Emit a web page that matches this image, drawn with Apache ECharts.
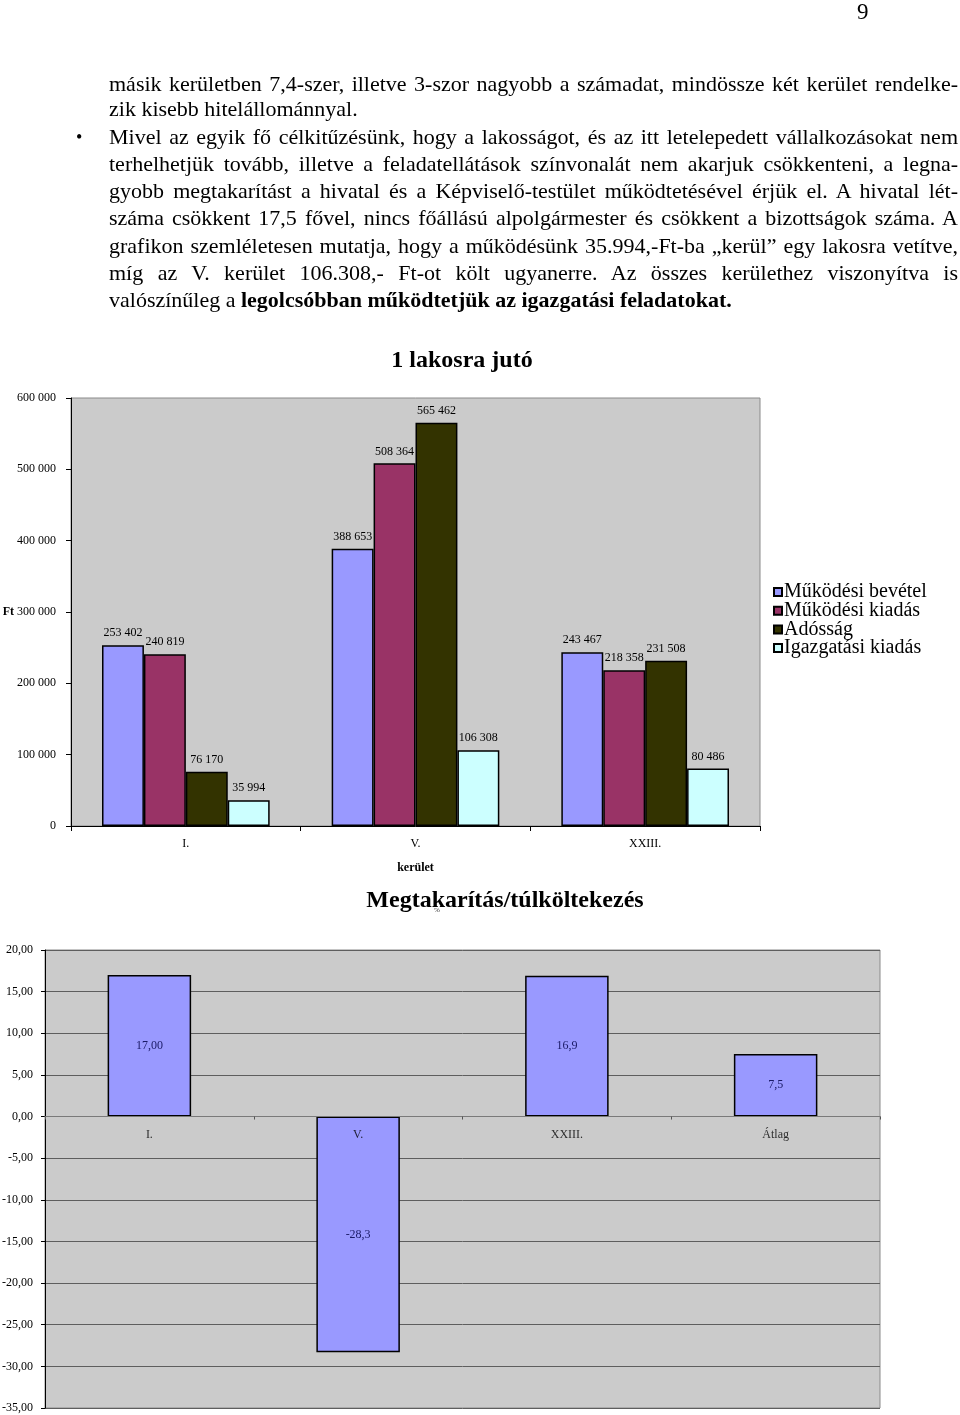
<!DOCTYPE html>
<html>
<head>
<meta charset="utf-8">
<script src="https://cdn.jsdelivr.net/npm/echarts@6/dist/echarts.min.js"></script>
<style>
  html, body { margin:0; padding:0; background:#fff; }
  #page { position:relative; width:960px; height:1415px; overflow:hidden; }
  #chart { position:absolute; left:0; top:0; width:960px; height:1415px; }
  .ln { position:absolute; left:109px; width:849px; font-family:"Liberation Serif", serif; font-size:22px; line-height:26px; white-space:nowrap; color:#000; }
  .j { text-align:justify; text-align-last:justify; }
  .pn { position:absolute; left:857px; top:-1px; font-family:"Liberation Serif", serif; font-size:23px; }
  .bul { position:absolute; left:76px; top:127px; font-family:"Liberation Serif", serif; font-size:18px; }
</style>
</head>
<body>
<div id="page">
  <div id="chart"></div>
  <div class="pn">9</div>
  <div class="bul">•</div>
  <div class="ln j" style="top:71px">másik kerületben 7,4-szer, illetve 3-szor nagyobb a számadat, mindössze két kerület rendelke-</div>
  <div class="ln" style="top:96px">zik kisebb hitelállománnyal.</div>
  <div class="ln j" style="top:124px">Mivel az egyik fő célkitűzésünk, hogy a lakosságot, és az itt letelepedett vállalkozásokat nem</div>
  <div class="ln j" style="top:151px">terhelhetjük tovább, illetve a feladatellátások színvonalát nem akarjuk csökkenteni, a legna-</div>
  <div class="ln j" style="top:178px">gyobb megtakarítást a hivatal és a Képviselő-testület működtetésével érjük el. A hivatal lét-</div>
  <div class="ln j" style="top:205px">száma csökkent 17,5 fővel, nincs főállású alpolgármester és csökkent a bizottságok száma. A</div>
  <div class="ln j" style="top:233px">grafikon szemléletesen mutatja, hogy a működésünk 35.994,-Ft-ba „kerül” egy lakosra vetítve,</div>
  <div class="ln j" style="top:260px">míg az V. kerület 106.308,- Ft-ot költ ugyanerre. Az összes kerülethez viszonyítva is</div>
  <div class="ln" style="top:287px">valószínűleg a <b>legolcsóbban működtetjük az igazgatási feladatokat.</b></div>
</div>
<script>
// ---- Chart 1: 1 lakosra jutó ----
const categories1 = ['I.', 'V.', 'XXIII.'];
const seriesNames1 = ['Működési bevétel', 'Működési kiadás', 'Adósság', 'Igazgatási kiadás'];
const mukodesiBevetel = [253402, 388653, 243467];
const mukodesiKiadas = [240819, 508364, 218358];
const adossag = [76170, 565462, 231508];
const igazgatasiKiadas = [35994, 106308, 80486];
const yMin1 = 0, yMax1 = 600000, yStep1 = 100000;

// ---- Chart 2: Megtakarítás/túlköltekezés ----
const categories2 = ['I.', 'V.', 'XXIII.', 'Átlag'];
const megtakaritas = [17.0, -28.3, 16.9, 7.5];
const megtakaritasLabels = ['17,00', '-28,3', '16,9', '7,5'];
const yMin2 = -35, yMax2 = 20, yStep2 = 5;

const colors1 = ['#9999FF', '#993366', '#333300', '#CCFFFF'];
const serif = '"Liberation Serif", "Times New Roman", serif';

function thousands(v) {
  return String(Math.round(v)).replace(/\B(?=(\d{3})+(?!\d))/g, ' ');
}

const chart = echarts.init(document.getElementById('chart'), null, { renderer: 'canvas' });

const values1 = [mukodesiBevetel, mukodesiKiadas, adossag, igazgatasiKiadas];

const series = values1.map((vals, i) => ({
  name: seriesNames1[i],
  type: 'bar',
  xAxisIndex: 0,
  yAxisIndex: 0,
  data: vals,
  barGap: '0%',
  barCategoryGap: '27%',
  itemStyle: { color: colors1[i], borderColor: '#000', borderWidth: 1.5 },
  label: {
    show: true, position: 'top', distance: 6,
    fontFamily: serif, fontSize: 12, color: '#000',
    formatter: p => thousands(p.value)
  },
  emphasis: { disabled: true }
}));

series.push({
  name: 'Megtakarítás',
  type: 'bar',
  xAxisIndex: 1,
  yAxisIndex: 1,
  data: megtakaritas,
  barCategoryGap: '60%',
  itemStyle: { color: '#9999FF', borderColor: '#000', borderWidth: 1.5 },
  label: {
    show: true, position: 'inside',
    fontFamily: serif, fontSize: 12, color: '#1a1a66',
    formatter: p => megtakaritasLabels[p.dataIndex]
  },
  emphasis: { disabled: true }
});

// category names of chart 2 written just under the zero line (as in the original)
series.push({
  name: 'kategória',
  type: 'scatter',
  xAxisIndex: 1,
  yAxisIndex: 1,
  data: categories2.map(c => [c, 0]),
  symbolSize: 0,
  silent: true,
  z: 10,
  label: {
    show: true, position: 'bottom', distance: 12,
    fontFamily: serif, fontSize: 12, color: '#000',
    formatter: p => p.value[0]
  },
  emphasis: { disabled: true }
});

const option = {
  animation: false,
  backgroundColor: 'transparent',
  textStyle: { fontFamily: serif },
  graphic: [
    { type: 'text', x: 462, y: 361, style: { text: '1 lakosra jutó', font: 'bold 24px ' + serif, fill: '#000', textAlign: 'center', textVerticalAlign: 'middle' } },
    { type: 'text', x: 505, y: 901, style: { text: 'Megtakarítás/túlköltekezés', font: 'bold 24px ' + serif, fill: '#000', textAlign: 'center', textVerticalAlign: 'middle' } },
    { type: 'text', x: 437, y: 910, style: { text: '%', font: '7px ' + serif, fill: '#333', textAlign: 'center', textVerticalAlign: 'middle' } }
  ],
  legend: {
    data: seriesNames1,
    orient: 'vertical',
    left: 768,
    top: 577,
    itemWidth: 8,
    itemHeight: 8,
    itemGap: -1.3,
    icon: 'rect',
    selectedMode: false,
    textStyle: { fontFamily: serif, fontSize: 20, lineHeight: 18.5, color: '#000', padding: [0, 0, 0, -3] }
  },
  grid: [
    { left: 71, top: 398, width: 689, height: 428, outerBoundsMode: 'none', containLabel: false, show: true, backgroundColor: '#CBCBCB', borderColor: '#8a8a8a', borderWidth: 1 },
    { left: 45, top: 950, width: 835, height: 458, outerBoundsMode: 'none', containLabel: false, show: true, backgroundColor: '#CBCBCB', borderColor: '#8a8a8a', borderWidth: 1 }
  ],
  xAxis: [
    {
      type: 'category', gridIndex: 0, data: categories1,
      axisLine: { lineStyle: { color: '#000', width: 1 } },
      axisTick: { show: true, length: 5, lineStyle: { color: '#000' } },
      axisLabel: { fontFamily: serif, fontSize: 12, color: '#000', margin: 12 },
      name: 'kerület', nameLocation: 'middle', nameGap: 36,
      nameTextStyle: { fontFamily: serif, fontSize: 12, fontWeight: 'bold', color: '#000' }
    },
    {
      type: 'category', gridIndex: 1, data: categories2,
      axisLine: { onZero: true, lineStyle: { color: '#7a7a7a', width: 1 } },
      axisTick: { show: true, length: 3, lineStyle: { color: '#555' } },
      axisLabel: { show: false },
      z: 10
    }
  ],
  yAxis: [
    {
      type: 'value', gridIndex: 0, min: yMin1, max: yMax1, interval: yStep1,
      axisLine: { show: true, lineStyle: { color: '#000', width: 1 } },
      axisTick: { show: true, length: 5, lineStyle: { color: '#000' } },
      splitLine: { show: false },
      axisLabel: {
        fontFamily: serif, fontSize: 12, color: '#000', margin: 15,
        formatter: v => v === 300000 ? '{ft|Ft} ' + thousands(v) : thousands(v),
        rich: { ft: { fontFamily: serif, fontSize: 12, fontWeight: 'bold', color: '#000' } }
      }
    },
    {
      type: 'value', gridIndex: 1, min: yMin2, max: yMax2, interval: yStep2,
      axisLine: { show: true, lineStyle: { color: '#000', width: 1 } },
      axisTick: { show: true, length: 4, lineStyle: { color: '#000' } },
      splitLine: { show: true, lineStyle: { color: '#5e5e5e', width: 1 } },
      axisLabel: {
        fontFamily: serif, fontSize: 12, color: '#000', margin: 12,
        formatter: v => v.toFixed(2).replace('.', ',')
      }
    }
  ],
  series: series
};

chart.setOption(option);
</script>
</body>
</html>
